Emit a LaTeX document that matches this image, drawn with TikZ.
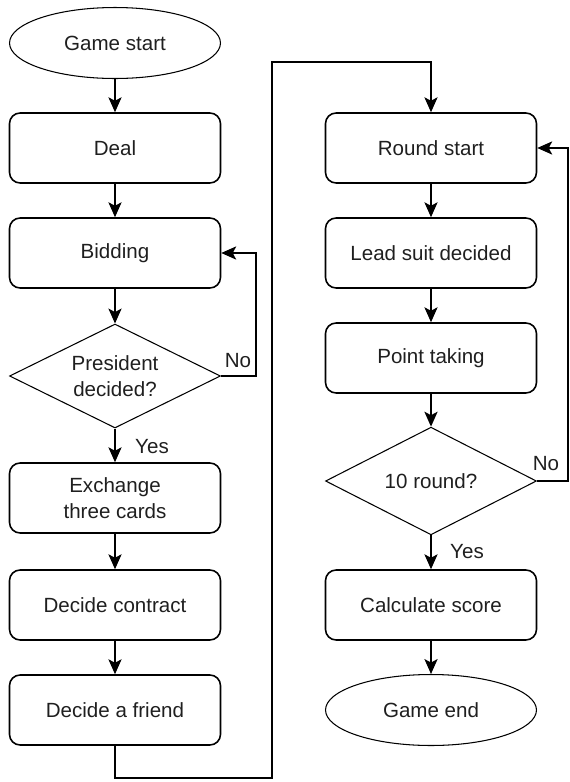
\documentclass[tikz,border=0pt]{standalone}
\usepackage{fontspec}
\setmainfont{Liberation Sans}
\usetikzlibrary{shapes.geometric,arrows.meta}
\begin{document}
\begin{tikzpicture}[x=0.02cm,y=-0.02cm,
  every node/.style={font=\fontsize{11.7}{14.5}\selectfont, text=black!88},
  box/.style={draw, line width=0.9pt, rounded corners=6pt, minimum width=4.22cm, minimum height=1.4cm, inner sep=0pt},
  term/.style={draw, line width=0.6pt, ellipse, minimum width=4.22cm, minimum height=1.42cm, inner sep=0pt},
  dec/.style={draw, line width=0.6pt, diamond, minimum width=4.22cm, minimum height=2.08cm, inner sep=0pt, align=center},
  lbl/.style={inner sep=0pt},
  arr/.style={line width=0.9pt, -{Stealth[length=8.5pt,width=7.5pt,inset=2pt]}},
  ln/.style={line width=0.9pt}]
\useasboundingbox (0,0) rectangle (570,782);
% left column
\node[term] (start) at (115,43) {Game start};
\node[box] (deal) at (115,148) {Deal};
\node[box] (bid) at (115,253) {Bidding};
\node[dec] (pres) at (115,376) {};
\node[lbl, align=center] (prestext) at (115,376) {President\\decided?};
\node[box, align=center] (exch) at (115,498) {Exchange\\three cards};
\node[box] (contract) at (115,605) {Decide contract};
\node[box] (friend) at (115,710) {Decide a friend};
% right column
\node[box] (round) at (431,148) {Round start};
\node[box] (lead) at (431,253) {Lead suit decided};
\node[box] (point) at (431,358) {Point taking};
\node[dec] (ten) at (431,481) {10 round?};
\node[box] (calc) at (431,605) {Calculate score};
\node[term] (end) at (431,710) {Game end};
% helper coordinates
\coordinate (noL) at (256,376);
\coordinate (b1) at (115,778);
\coordinate (b2) at (272,778);
\coordinate (b3) at (272,62);
\coordinate (b4) at (431,62);
\coordinate (noR) at (568,481);
% connectors left
\draw[arr] (start) -- (deal);
\draw[arr] (deal) -- (bid);
\draw[arr] (bid) -- (pres);
\draw[arr] (pres) -- (exch);
\draw[arr] (exch) -- (contract);
\draw[arr] (contract) -- (friend);
\draw[arr] (pres.east) -- (noL) |- (bid.east);
\node[lbl] (nol) at (238,361) {No};
\node[lbl] (yesl) at (152,447) {Yes};
% cross connector
\draw[arr] (friend.south) -- (b1) -- (b2) -- (b3) -- (b4) -- (round.north);
% connectors right
\draw[arr] (round) -- (lead);
\draw[arr] (lead) -- (point);
\draw[arr] (point) -- (ten);
\draw[arr] (ten) -- (calc);
\draw[arr] (calc) -- (end);
\draw[arr] (ten.east) -- (noR) |- (round.east);
\node[lbl] (nor) at (546,464) {No};
\node[lbl] (yesr) at (467,552) {Yes};
\end{tikzpicture}
\end{document}
